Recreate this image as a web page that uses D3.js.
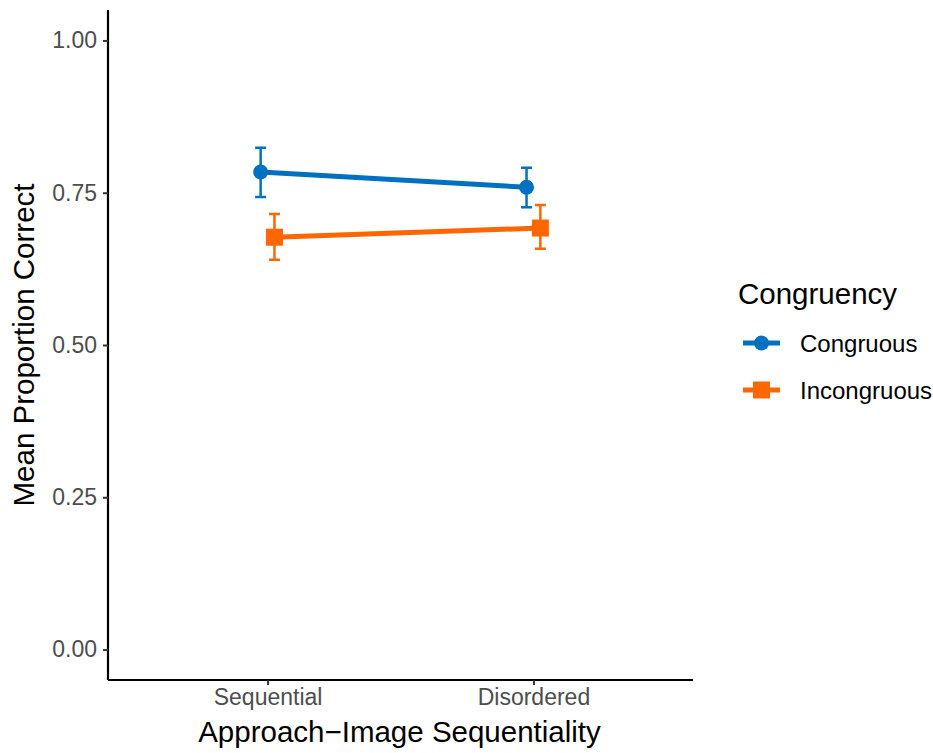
<!DOCTYPE html>
<html><head><meta charset="utf-8">
<script src="https://cdn.jsdelivr.net/npm/d3@7"></script>
<style>body{margin:0;background:#fff;}svg{display:block;font-family:"Liberation Sans",Arial,sans-serif;}</style>
</head><body>
<script>
const categories = ["Sequential", "Disordered"];
const groups = ["Congruous", "Incongruous"];
const congruousMean = [0.784, 0.759];
const congruousLow = [0.743, 0.726];
const congruousHigh = [0.824, 0.791];
const incongruousMean = [0.677, 0.692];
const incongruousLow = [0.640, 0.658];
const incongruousHigh = [0.715, 0.730];
const yTicks = [0, 0.25, 0.5, 0.75, 1.0];
const colors = ["#0070C0", "#FF6600"];

(function () {
const W = 933, H = 753;
const svg = d3.select("body").append("svg").attr("width", W).attr("height", H);
const pLeft = 108, pRight = 693, pTop = 10, pBottom = 680;

const x = d3.scaleLinear().domain([0.4, 2.6]).range([pLeft, pRight]);
const y = d3.scaleLinear().domain([-0.05, 1.05]).range([pBottom, pTop]);
const dodge = 0.026;

const series = [
  {name: groups[0], mean: congruousMean, lo: congruousLow, hi: congruousHigh, color: colors[0], off: -dodge, shape: "circle"},
  {name: groups[1], mean: incongruousMean, lo: incongruousLow, hi: incongruousHigh, color: colors[1], off: dodge, shape: "square"}
];

const yAxis = d3.axisLeft(y).tickValues(yTicks).tickFormat(d3.format(".2f")).tickSize(5).tickPadding(6);
const gy = svg.append("g").attr("transform", `translate(${pLeft},0)`).call(yAxis);
const xAxis = d3.axisBottom(x).tickValues([1, 2]).tickFormat((d) => categories[d - 1]).tickSize(5).tickPadding(4);
const gx = svg.append("g").attr("transform", `translate(0,${pBottom})`).call(xAxis);
[gx, gy].forEach(g => {
  g.attr("font-size", null).attr("font-family", null);
  g.select(".domain").attr("stroke", "#000").attr("stroke-width", 2.2);
  g.selectAll(".tick line").attr("stroke", "#333").attr("stroke-width", 2);
  g.selectAll(".tick text").attr("fill", "#4D4D4D").style("font-size", "23px");
});
gy.select(".domain").attr("d", `M0,${pBottom}V${pTop}`);
gx.select(".domain").attr("d", `M${pLeft},0H${pRight}`);

series.forEach(s => {
  const pts = s.mean.map((m, i) => ({x: x(i + 1 + s.off), y: y(m), lo: y(s.lo[i]), hi: y(s.hi[i])}));
  const g = svg.append("g");
  g.append("path").attr("d", d3.line().x(d => d.x).y(d => d.y)(pts))
    .attr("stroke", s.color).attr("stroke-width", 5).attr("fill", "none");
  pts.forEach(p => {
    g.append("path").attr("d", `M${p.x},${p.lo}V${p.hi}M${p.x-5.5},${p.lo}H${p.x+5.5}M${p.x-5.5},${p.hi}H${p.x+5.5}`)
      .attr("stroke", s.color).attr("stroke-width", 2.5).attr("fill", "none");
    if (s.shape === "circle") g.append("circle").attr("cx", p.x).attr("cy", p.y).attr("r", 7.5).attr("fill", s.color);
    else g.append("rect").attr("x", p.x - 8.5).attr("y", p.y - 8.5).attr("width", 17).attr("height", 17).attr("fill", s.color);
  });
});

svg.append("text").attr("x", (pLeft + pRight) / 2 - 1).attr("y", 742).attr("text-anchor", "middle")
  .style("font-size", "29.5px").attr("fill", "#000").text("Approach\u2212Image Sequentiality");
svg.append("text").attr("transform", `translate(34,${(pTop + pBottom) / 2}) rotate(-90)`).attr("text-anchor", "middle")
  .style("font-size", "29.5px").attr("fill", "#000").text("Mean Proportion Correct");

const lg = svg.append("g");
lg.append("text").attr("x", 738).attr("y", 304).style("font-size", "29.5px").attr("fill", "#000").text("Congruency");
series.forEach((s, i) => {
  const cy = 343 + i * 47;
  lg.append("line").attr("x1", 743).attr("x2", 780).attr("y1", cy).attr("y2", cy).attr("stroke", s.color).attr("stroke-width", 5);
  if (s.shape === "circle") lg.append("circle").attr("cx", 761.5).attr("cy", cy).attr("r", 7.5).attr("fill", s.color);
  else lg.append("rect").attr("x", 753).attr("y", cy - 8.5).attr("width", 17).attr("height", 17).attr("fill", s.color);
  lg.append("text").attr("x", 800).attr("y", cy + 8.5).style("font-size", "24px").attr("fill", "#000").text(s.name);
});
})();
</script>
</body></html>
